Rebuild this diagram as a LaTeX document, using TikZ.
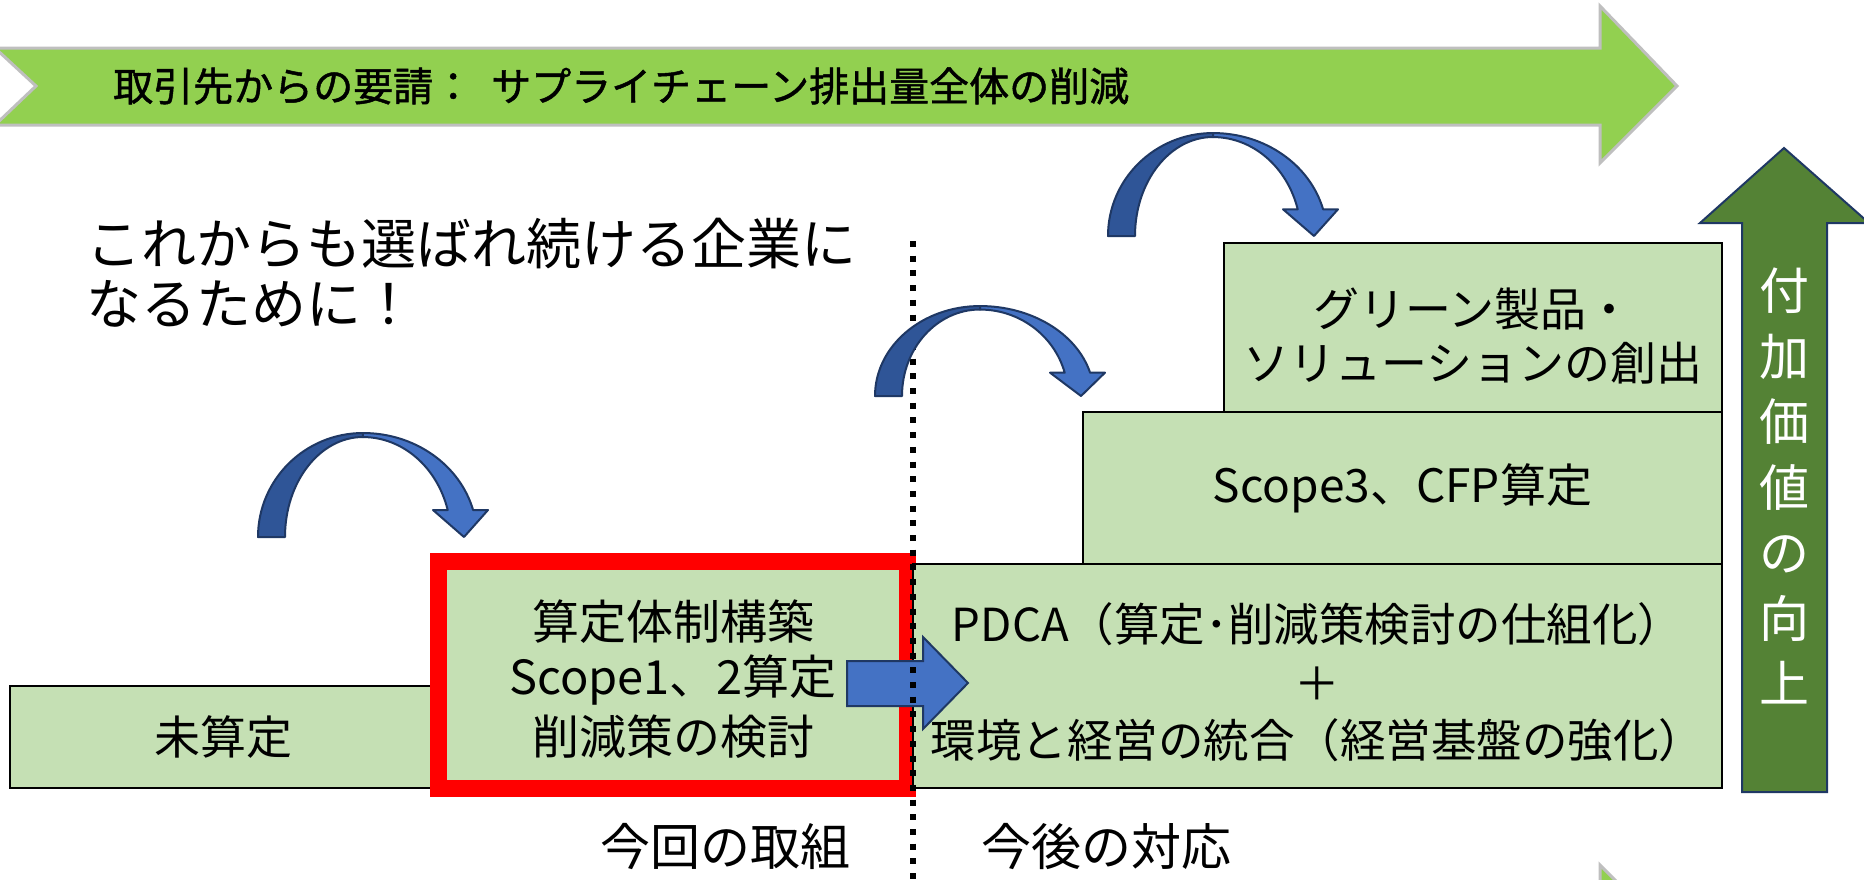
\documentclass[tikz,border=0pt]{standalone}
\usepackage{fontspec}
\setmainfont{Noto Sans CJK JP}
\newfontfamily\bannerfont[FakeBold=1.2]{Noto Sans CJK JP}
\definecolor{boxgreen}{HTML}{C5E0B4}
\definecolor{lightgreen}{HTML}{92D050}
\definecolor{darkgreen}{HTML}{548235}
\definecolor{lblue}{HTML}{4472C4}
\definecolor{dblue}{HTML}{2F5597}
\definecolor{navy}{HTML}{1F3864}
\newcommand\curvarr[3]{%
  \begin{scope}[shift={(#1,#2)}, yscale=-#3]
    \filldraw[fill=dblue, draw=navy, line width=2pt, line join=round]
      (0,0) arc[start angle=180, end angle=90, x radius=105, y radius=104]
      -- (105,100) arc[start angle=90, end angle=180, x radius=78, y radius=100] -- cycle;
    \filldraw[fill=lblue, draw=navy, line width=2pt, line join=round]
      (105,104) arc[start angle=90, end angle=15, x radius=114, y radius=104]
      -- (230,27) -- (206,0) -- (175,27) -- (189.7,27)
      arc[start angle=15.7, end angle=90, x radius=88, y radius=100] -- cycle;
  \end{scope}}
\begin{document}
\begin{tikzpicture}[x=1pt, y=-1pt,
  box/.style={draw=black, line width=2.5pt, fill=boxgreen, inner sep=0pt, align=center, text=black},
  shapearrow/.style={draw=navy, line width=2pt, line join=miter},
  lbl/.style={inner sep=0pt, text=black}]
\useasboundingbox (0,0) rectangle (1864,879);
\fill[white] (0,0) rectangle (1864,879);

% top banner arrow
\filldraw[fill=lightgreen, draw=black!25, line width=3pt]
  (-5,48) -- (1600,48) -- (1600,6) -- (1677,86) -- (1600,163) -- (1600,125) -- (-5,125) -- (36,86) -- cycle;
\node[lbl, anchor=west, font=\bannerfont\fontsize{40}{44}\selectfont] (req) at (113,86)
  {取引先からの要請：\hspace{18pt}サプライチェーン排出量全体の削減};

% bottom-right fragment of another arrow
\filldraw[fill=lightgreen, draw=black!25, line width=3pt]
  (1600,865) -- (1640,905) -- (1600,905) -- cycle;

% headline text
\node[lbl, anchor=north west, align=left, font=\fontsize{55}{60}\selectfont] (head) at (86,218)
  {これからも選ばれ続ける企業に\\なるために！};

% step boxes
\node[box, minimum width=426pt, minimum height=102pt, font=\fontsize{46}{55}\selectfont] (mi) at (223,737) {未算定};
\node[box, draw=red, line width=17pt, minimum width=469pt, minimum height=227pt] (cur) at (673,674.5) {};
\node[box, minimum width=809pt, minimum height=224pt] (pdca) at (1317.5,676) {};
\node[box, minimum width=639pt, minimum height=152pt, font=\fontsize{46}{55}\selectfont] (s3) at (1402.5,488)
  {Scope3、CFP算定};
\node[box, minimum width=498pt, minimum height=169pt] (green) at (1473,327.5) {};

% texts of the multi-line boxes
\begin{scope}[every node/.style={lbl, font=\fontsize{47}{57}\selectfont}]
  \node (cur1) at (cur.center |- 0,622) {算定体制構築};
  \node (cur2) at (cur.center |- 0,680) {Scope1、2算定};
  \node (cur3) at (cur.center |- 0,737) {削減策の検討};
\end{scope}
\begin{scope}[every node/.style={lbl, font=\fontsize{45.5}{58}\selectfont}]
  \node (pd1) at (pdca.center |- 0,624) {PDCA（算定･削減策検討の仕組化）};
  \node (pd2) at (pdca.center |- 0,684) {＋};
  \node (pd3) at (pdca.center |- 0,740) {環境と経営の統合（経営基盤の強化）};
\end{scope}
\begin{scope}[every node/.style={lbl, font=\fontsize{46}{55}\selectfont}]
  \node (gr1) at (green.center |- 0,309) {グリーン製品・};
  \node (gr2) at (green.center |- 0,363) {ソリューションの創出};
\end{scope}

% straight blue arrow
\filldraw[shapearrow, fill=lblue]
  (847,661) -- (923,661) -- (923,637) -- (968,683) -- (923,729) -- (923,706) -- (847,706) -- cycle;

% dotted separator
\coordinate (sepTop) at (913,241);
\coordinate (sepBot) at (913,882);
\draw[line width=6pt, dash pattern=on 6pt off 8.7pt] (sepTop) -- (sepBot);

% curved arrows
\curvarr{258}{537}{1}
\curvarr{875}{396}{0.865}
\curvarr{1108}{236}{0.99}

% vertical value arrow
\filldraw[shapearrow, fill=darkgreen]
  (1742,792) -- (1742,223) -- (1700,223) -- (1784,148) -- (1869,223) -- (1827,223) -- (1827,792) -- cycle;
\node[lbl, text=white, align=center, font=\fontsize{50}{65.5}\selectfont] (val) at (1784,486)
  {付\\加\\価\\値\\の\\向\\上};

% bottom labels
\node[lbl, font=\fontsize{50}{55}\selectfont] (now) at (725,847) {今回の取組};
\node[lbl, font=\fontsize{50}{55}\selectfont] (next) at (1106,847) {今後の対応};
\end{tikzpicture}
\end{document}
